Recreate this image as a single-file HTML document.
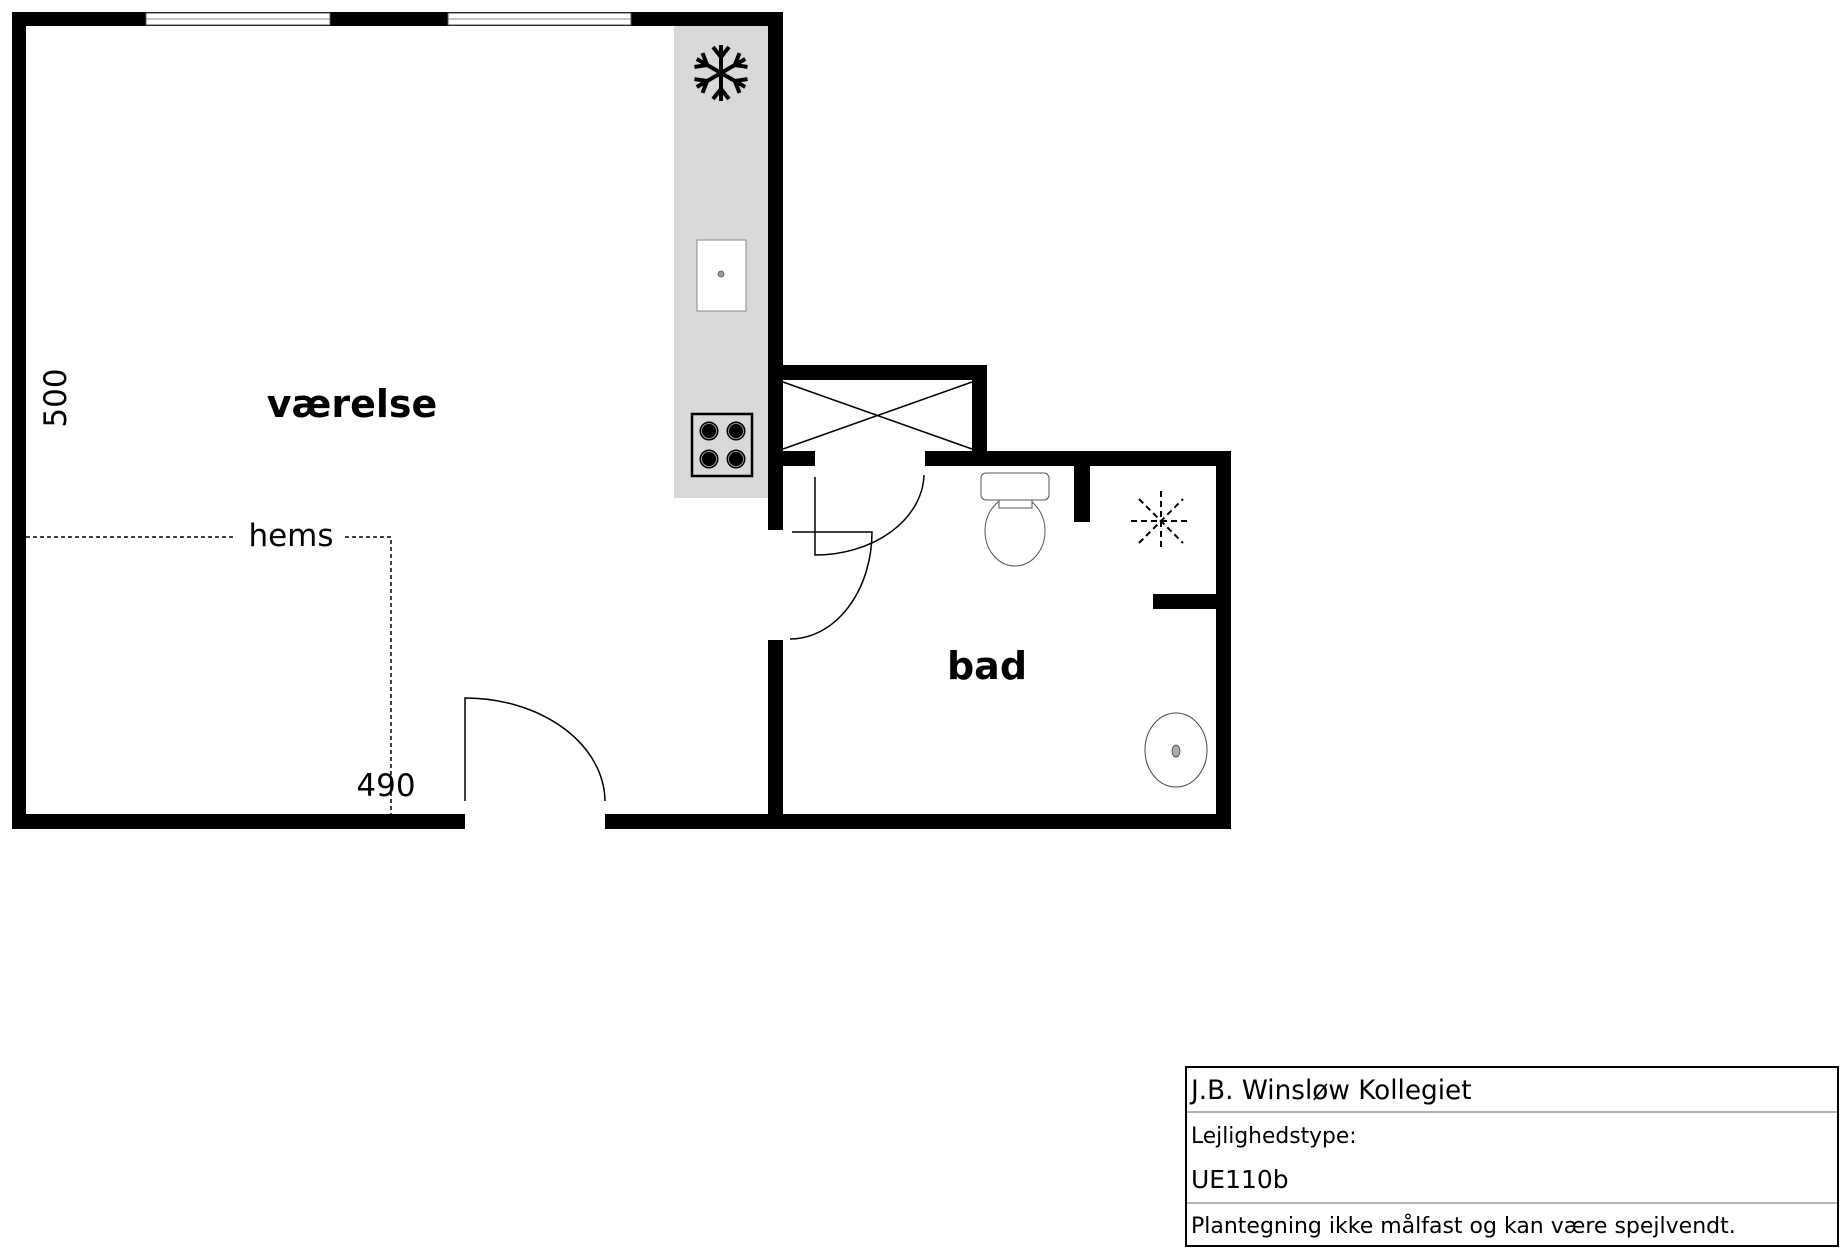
<!DOCTYPE html>
<html><head><meta charset="utf-8"><style>html,body{margin:0;padding:0;background:#fff}svg{display:block}</style></head>
<body>
<svg width="1847" height="1257" viewBox="0 0 1847 1257" xmlns="http://www.w3.org/2000/svg" font-family="DejaVu Sans, Liberation Sans, sans-serif">
<rect width="1847" height="1257" fill="#fff"/>
<rect x="674" y="26" width="94" height="472" fill="#d9d9d9"/>
<g fill="#000">
<rect x="12" y="12" width="14" height="817"/>
<rect x="12" y="12" width="771" height="14"/>
<rect x="768" y="12" width="15" height="518"/>
<rect x="768" y="640" width="15" height="189"/>
<rect x="12" y="814" width="453" height="15"/>
<rect x="605" y="814" width="626" height="15"/>
<rect x="768" y="365" width="219" height="15"/>
<rect x="972" y="365" width="15" height="101"/>
<rect x="925" y="451" width="306" height="15"/>
<rect x="783" y="451" width="32" height="15"/>
<rect x="1216" y="451" width="15" height="378"/>
<rect x="1074" y="466" width="16" height="56"/>
<rect x="1153" y="594" width="63" height="15"/>
</g>
<g fill="#fff" stroke="#555" stroke-width="1">
<rect x="146" y="13" width="184" height="12"/>
<rect x="448" y="13" width="183" height="12"/>
</g>
<line x1="146" y1="19" x2="330" y2="19" stroke="#888" stroke-width="1"/>
<line x1="448" y1="19" x2="631" y2="19" stroke="#888" stroke-width="1"/>
<g stroke="#000" stroke-width="1.5">
<line x1="783" y1="382" x2="972" y2="449"/>
<line x1="783" y1="449" x2="972" y2="382"/>
</g>
<g stroke="#000" stroke-width="4" transform="translate(721,73)">
<g id="arm"><line x1="0" y1="0" x2="0" y2="-28"/><line x1="0" y1="-16" x2="-8" y2="-26"/><line x1="0" y1="-16" x2="8" y2="-26"/></g>
<use href="#arm" transform="rotate(60)"/><use href="#arm" transform="rotate(120)"/><use href="#arm" transform="rotate(180)"/><use href="#arm" transform="rotate(240)"/><use href="#arm" transform="rotate(300)"/>
</g>
<rect x="697" y="240" width="49" height="71" fill="#fff" stroke="#888" stroke-width="1"/>
<circle cx="721" cy="274" r="3" fill="#999" stroke="#555" stroke-width="0.8"/>
<rect x="692" y="414" width="60" height="62" fill="#d9d9d9" stroke="#000" stroke-width="2.5"/>
<g fill="#000" stroke="#000"><circle cx="709" cy="431" r="9"/><circle cx="736" cy="431" r="9"/><circle cx="709" cy="459" r="9"/><circle cx="736" cy="459" r="9"/></g>
<g fill="none" stroke="#bbb" stroke-width="0.8"><circle cx="709" cy="431" r="7.5"/><circle cx="736" cy="431" r="7.5"/><circle cx="709" cy="459" r="7.5"/><circle cx="736" cy="459" r="7.5"/></g>
<g fill="none" stroke="#000" stroke-width="1.5">
<path d="M815,477 L815,555 A109 82 0 0 0 924,475"/>
<path d="M792,532 L872,532 A82 107 0 0 1 790,639"/>
<path d="M465,801 L465,698 A140 104 0 0 1 605,801"/>
</g>
<g fill="#fff" stroke="#555" stroke-width="1">
<ellipse cx="1015" cy="531" rx="30" ry="35"/>
<rect x="999" y="499" width="33" height="9"/>
<rect x="981" y="473" width="68" height="27" rx="5"/>
</g>
<g stroke="#000" stroke-width="2" stroke-dasharray="6,4" transform="translate(1161,521)">
<line x1="-30" y1="0" x2="30" y2="0"/><line x1="0" y1="-30" x2="0" y2="30"/>
<line x1="-22" y1="-22" x2="22" y2="22"/><line x1="-22" y1="22" x2="22" y2="-22"/>
</g>
<ellipse cx="1176" cy="750" rx="31" ry="37" fill="#fff" stroke="#444" stroke-width="1"/>
<ellipse cx="1176" cy="751" rx="4" ry="6" fill="#aaa" stroke="#444" stroke-width="0.8"/>
<g stroke="#000" stroke-width="1.5" stroke-dasharray="4,3" fill="none">
<line x1="26" y1="537" x2="236" y2="537"/>
<path d="M345,537 L391,537 L391,814"/>
</g>
<text x="291" y="546" font-size="31" text-anchor="middle">hems</text>
<text x="386" y="796" font-size="31" text-anchor="middle">490</text>
<text transform="translate(66,398) rotate(-90)" font-size="31" text-anchor="middle">500</text>
<text x="352" y="417" font-size="38" font-weight="bold" text-anchor="middle">værelse</text>
<text x="987" y="679" font-size="38" font-weight="bold" text-anchor="middle">bad</text>
<rect x="1186" y="1067" width="652" height="179" fill="#fff" stroke="#000" stroke-width="2"/>
<line x1="1187" y1="1112" x2="1837" y2="1112" stroke="#999" stroke-width="1.5"/>
<line x1="1187" y1="1203" x2="1837" y2="1203" stroke="#999" stroke-width="1.5"/>
<text x="1191" y="1099" font-size="26.3">J.B. Winsløw Kollegiet</text>
<text x="1191" y="1143" font-size="21.8">Lejlighedstype:</text>
<text x="1191" y="1188" font-size="25">UE110b</text>
<text x="1191" y="1233" font-size="22">Plantegning ikke målfast og kan være spejlvendt.</text>
</svg>
</body></html>
